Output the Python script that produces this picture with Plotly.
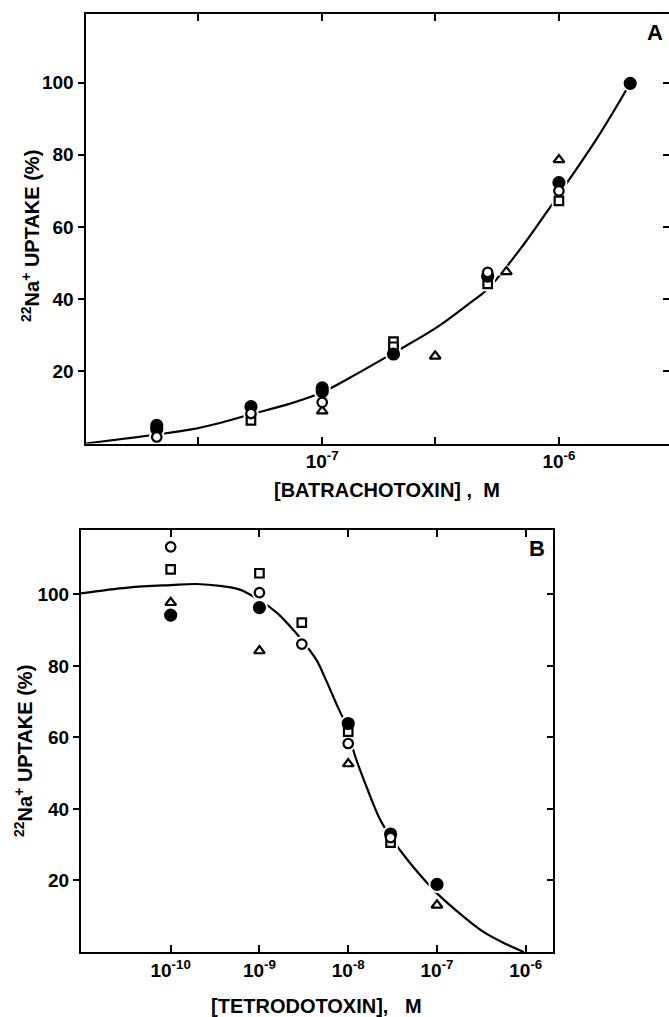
import plotly.graph_objects as go

# ---------------- Panel A: batrachotoxin ----------------
a_filled_x = [2e-8, 2e-8, 5e-8, 1e-7, 1e-7, 2e-7, 5e-7, 1e-6, 2e-6]
a_filled_y = [5.0, 4.0, 10.2, 15.4, 14.4, 24.8, 46.4, 72.3, 99.8]
a_circle_x = [2e-8, 5e-8, 1e-7, 5e-7, 1e-6]
a_circle_y = [1.8, 8.3, 11.4, 47.4, 70.0]
a_square_x = [5e-8, 2e-7, 2e-7, 5e-7, 1e-6]
a_square_y = [6.4, 28.2, 26.8, 44.2, 67.2]
a_tri_x = [1e-7, 3e-7, 6e-7, 1e-6]
a_tri_y = [9.0, 24.2, 47.6, 78.6]
a_curve_x = [1e-8, 2e-8, 2.8e-8, 3.8e-8, 5e-8, 7.2e-8, 1e-7, 1.4e-7, 2e-7, 3e-7,
             4.2e-7, 5e-7, 7.2e-7, 9.5e-7, 1.45e-6, 2e-6]
a_curve_y = [0.0, 2.5, 3.9, 5.9, 8.1, 10.9, 14.2, 19.3, 25.1, 31.9,
             38.9, 42.8, 55.7, 66.9, 84.6, 99.8]
a_tickvals = [3e-8, 1e-7, 3e-7, 1e-6, 3e-6]
a_ticktext = ["", "<b>10<sup>-7</sup></b>", "", "<b>10<sup>-6</sup></b>", ""]

# ---------------- Panel B: tetrodotoxin ----------------
b_filled_x = [1e-10, 1e-9, 1e-8, 3e-8, 1e-7]
b_filled_y = [94.2, 96.3, 63.9, 33.0, 18.9]
b_circle_x = [1e-10, 1e-9, 3e-9, 1e-8, 3e-8]
b_circle_y = [113.3, 100.5, 86.1, 58.3, 32.0]
b_square_x = [1e-10, 1e-9, 3e-9, 1e-8, 3e-8]
b_square_y = [107.0, 105.9, 92.1, 61.6, 30.6]
b_tri_x = [1e-10, 1e-9, 1e-8, 1e-7]
b_tri_y = [97.7, 84.2, 52.6, 13.1]
b_curve_x = [9.8e-12, 3.3e-11, 1e-10, 1.95e-10, 3.8e-10, 5.9e-10, 1e-9, 1.6e-9, 2.5e-9,
             3e-9, 4.4e-9, 5.4e-9, 7.6e-9, 1e-8, 1.17e-8, 1.66e-8, 2.3e-8, 3e-8,
             4.5e-8, 7.8e-8, 1e-7, 1.9e-7, 3.3e-7, 5.8e-7, 9.5e-7]
b_curve_y = [100.3, 101.9, 102.6, 102.9, 102.3, 101.4, 98.4, 94.7, 89.6,
             87.2, 81.6, 77.0, 68.6, 62.1, 55.5, 45.3, 36.9, 32.2,
             26.2, 19.2, 16.4, 10.3, 5.7, 2.4, 0.0]
b_tickvals = [1e-10, 1e-9, 1e-8, 1e-7, 1e-6]
b_ticktext = ["<b>10<sup>-10</sup></b>", "<b>10<sup>-9</sup></b>", "<b>10<sup>-8</sup></b>",
              "<b>10<sup>-7</sup></b>", "<b>10<sup>-6</sup></b>"]

y_tickvals = [20, 40, 60, 80, 100]
y_ticktext = ["<b>20</b>", "<b>40</b>", "<b>60</b>", "<b>80</b>", "<b>100</b>"]

FONT = "Liberation Sans, Arial, sans-serif"
W, H = 669, 1017

fig = go.Figure()


def add_panel(xa, ya, curve_x, curve_y, series):
    fig.add_trace(go.Scatter(x=curve_x, y=curve_y, mode="lines", xaxis=xa, yaxis=ya,
                             line=dict(color="black", width=2.2, shape="spline", smoothing=1.0),
                             hoverinfo="skip", showlegend=False))
    # white halos that break the curve around the points
    for xs, ys, sym, size, filled in series:
        fig.add_trace(go.Scatter(x=xs, y=ys, mode="markers", xaxis=xa, yaxis=ya,
                                 marker=dict(symbol=sym, size=size + 6, color="white",
                                             line=dict(width=0)),
                                 hoverinfo="skip", showlegend=False))
    for xs, ys, sym, size, filled in series:
        fig.add_trace(go.Scatter(x=xs, y=ys, mode="markers", xaxis=xa, yaxis=ya,
                                 marker=dict(symbol=sym, size=size,
                                             color="black" if filled else "white",
                                             line=dict(color="black", width=2.2)),
                                 showlegend=False))


add_panel("x", "y", a_curve_x, a_curve_y, [
    (a_square_x, a_square_y, "square", 8.5, False),
    (a_tri_x, a_tri_y, "triangle-up", 9.5, False),
    (a_filled_x, a_filled_y, "circle", 11, True),
    (a_circle_x, a_circle_y, "circle", 9.5, False),
])
add_panel("x2", "y2", b_curve_x, b_curve_y, [
    (b_square_x, b_square_y, "square", 8.5, False),
    (b_tri_x, b_tri_y, "triangle-up", 9.5, False),
    (b_filled_x, b_filled_y, "circle", 11, True),
    (b_circle_x, b_circle_y, "circle", 9.5, False),
])


def xd(l, r):
    return [l / W, min(r / W, 1.0)]


def yd(top, bottom):
    return [(H - bottom) / H, (H - top) / H]


tickfont = dict(family=FONT, size=19, color="black")
common_x = dict(type="log", showgrid=False, zeroline=False, showline=True, linecolor="black",
                linewidth=2, ticks="inside", ticklen=7, tickwidth=1.5, tickcolor="black",
                mirror="ticks", tickfont=tickfont)
common_y = dict(showgrid=False, zeroline=False, showline=True, linecolor="black", linewidth=2,
                ticks="outside", ticklen=6, tickwidth=1.5, tickcolor="black",
                tickfont=tickfont, tickvals=y_tickvals, ticktext=y_ticktext)
right_y = dict(side="right", showgrid=False, zeroline=False, showline=True, linecolor="black",
               linewidth=2, ticks="inside", ticklen=6, tickwidth=1.5, tickcolor="black",
               tickvals=y_tickvals, showticklabels=False)

A_TOP, A_BOT = 14, 443.5
B_TOP, B_BOT = 530, 952

fig.update_layout(
    width=W, height=H, margin=dict(l=0, r=0, t=0, b=0),
    paper_bgcolor="white", plot_bgcolor="white",
    xaxis=dict(common_x, domain=xd(85.5, 669), range=[-8.0, -5.535], anchor="y",
               tickvals=a_tickvals, ticktext=a_ticktext),
    yaxis=dict(common_y, domain=yd(A_TOP, A_BOT), range=[0, 119], anchor="x"),
    yaxis3=dict(right_y, domain=yd(A_TOP, A_BOT), range=[0, 119], overlaying="y", anchor="x"),
    xaxis2=dict(common_x, domain=xd(81, 553.3), range=[-11.01, -5.69], anchor="y2",
                tickvals=b_tickvals, ticktext=b_ticktext),
    yaxis2=dict(common_y, domain=yd(B_TOP, B_BOT), range=[0, 118], anchor="x2"),
    yaxis4=dict(right_y, domain=yd(B_TOP, B_BOT), range=[0, 118], overlaying="y2", anchor="x2"),
)
# invisible traces to activate the right-hand axes
fig.add_trace(go.Scatter(x=[1e-8], y=[0], xaxis="x", yaxis="y3", mode="markers",
                         marker=dict(opacity=0), hoverinfo="skip", showlegend=False))
fig.add_trace(go.Scatter(x=[1e-11], y=[0], xaxis="x2", yaxis="y4", mode="markers",
                         marker=dict(opacity=0), hoverinfo="skip", showlegend=False))

ytitle = "<b><sup>22</sup>Na<sup>+</sup> UPTAKE (%)</b>"
titlefont = dict(family=FONT, size=20, color="black")
annos = [
    dict(text=ytitle, x=31 / W, y=(H - 236) / H, textangle=-90),
    dict(text=ytitle, x=24 / W, y=(H - 751) / H, textangle=-90),
    dict(text="<b>[BATRACHOTOXIN] ,  M</b>", x=387 / W, y=(H - 490) / H),
    dict(text="<b>[TETRODOTOXIN],   M</b>", x=316 / W, y=(H - 1006) / H),
    dict(text="<b>A</b>", x=655 / W, y=(H - 32) / H, font=dict(family=FONT, size=22, color="black")),
    dict(text="<b>B</b>", x=537 / W, y=(H - 548) / H, font=dict(family=FONT, size=22, color="black")),
]
for a in annos:
    a.setdefault("font", titlefont)
    fig.add_annotation(xref="paper", yref="paper", showarrow=False,
                       xanchor="center", yanchor="middle", **a)

fig.write_html("out.html")
